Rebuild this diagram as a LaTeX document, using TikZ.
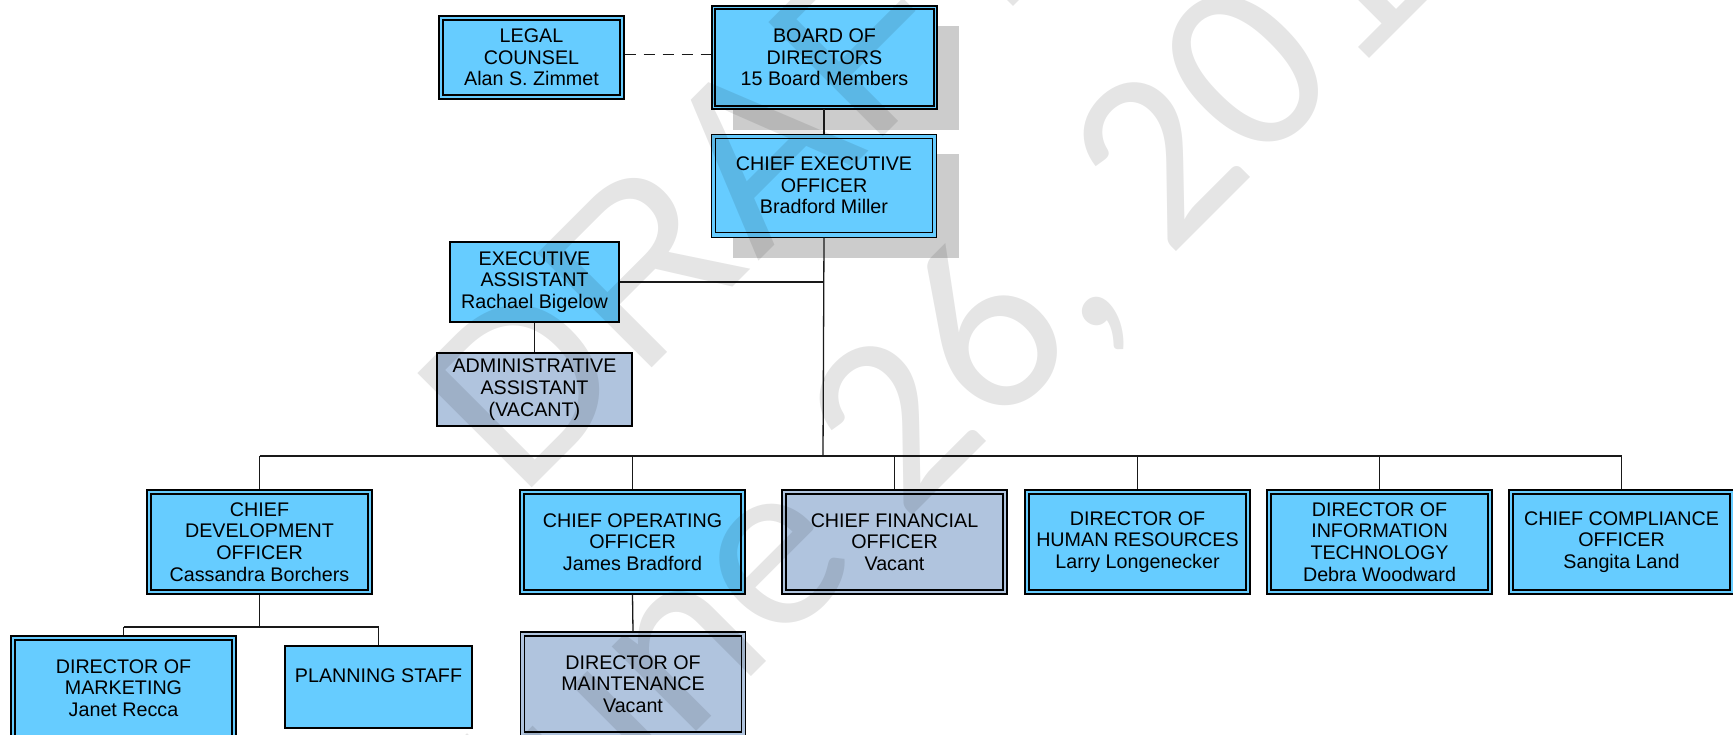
\documentclass[tikz,border=0pt]{standalone}
\usepackage{fontspec}
\setmainfont{Liberation Sans}
\newfontfamily\wmdatefamily{Carlito}
\definecolor{boxblue}{HTML}{66CCFF}
\definecolor{vacantblue}{HTML}{B0C4DE}
\definecolor{shadowgray}{HTML}{CCCCCC}
\newcommand\boxfont{\fontsize{19.7}{21.7}\selectfont}
\newcommand\wmtitlefont{\fontsize{235}{280}\selectfont}
\newcommand\wmdatefont{\wmdatefamily\fontsize{250}{300}\selectfont}
\tikzset{
  box/.style={draw=black, line width=1.1pt, fill=boxblue, minimum width=225pt,
    minimum height=104pt, inner sep=0pt, align=center, font=\boxfont},
  vacant/.style={fill=vacantblue},
  innerline/.style={line width=1.8pt},
  link/.style={line width=1.3pt, draw=black!90},
  shade/.style={fill=shadowgray, draw=none},
  watermark/.style={rotate=45, anchor=base, text=black, text opacity=0.1, inner sep=0pt}
}
\begin{document}
\begin{tikzpicture}[x=1pt, y=-1pt]
\useasboundingbox (0,0) rectangle (1733,734);

% drop shadows behind the two top boxes
\fill[shade] (733,26) rectangle (959,130);
\fill[shade] (733,154) rectangle (959,258);

% governance
\node[box, minimum width=185pt, minimum height=83pt] (legal) at (531.5,57.5) {LEGAL\\COUNSEL\\Alan S. Zimmet};
\node[box, line width=2.2pt, minimum height=103pt] (board) at (824.5,57.5) {BOARD OF\\DIRECTORS\\15 Board Members};
\node[box, line width=0.9pt, minimum height=103pt] (ceo) at (824,185.5) {CHIEF EXECUTIVE\\OFFICER\\Bradford Miller};

% executive office
\node[box, minimum width=169pt, minimum height=80pt] (exec) at (534.5,282) {EXECUTIVE\\ASSISTANT\\Rachael Bigelow};
\node[box, vacant, minimum width=195pt, minimum height=73pt] (admin) at (534.5,389.5) {ADMINISTRATIVE\\ASSISTANT\\(VACANT)};

% senior staff
\node[box] (dev) at (259.5,542) {CHIEF\\DEVELOPMENT\\OFFICER\\Cassandra Borchers};
\node[box] (coo) at (632.5,542) {CHIEF OPERATING\\OFFICER\\James Bradford};
\node[box, vacant] (cfo) at (894.5,542) {CHIEF FINANCIAL\\OFFICER\\Vacant};
\node[box] (hr) at (1137.5,542) {DIRECTOR OF\\HUMAN RESOURCES\\Larry Longenecker};
\node[box] (it) at (1379.5,542) {DIRECTOR OF\\INFORMATION\\TECHNOLOGY\\Debra Woodward};
\node[box] (cco) at (1621.5,542) {CHIEF COMPLIANCE\\OFFICER\\Sangita Land};

% third level
\node[box] (mkt) at (123.5,688) {DIRECTOR OF\\MARKETING\\Janet Recca};
\node[box, minimum width=187pt, minimum height=82pt] (plan) at (378.5,687) {};
\node[font=\boxfont, anchor=center] (plantext) at (378.5,675.5) {PLANNING STAFF};
\node[box, vacant] (maint) at (633,684) {DIRECTOR OF\\MAINTENANCE\\Vacant};

% inner frames of the double-bordered boxes
\foreach \n in {legal,dev,coo,cfo,hr,it,cco,mkt,maint}
  \draw[innerline] ([shift={(4.5pt,-4.5pt)}]\n.north west) rectangle ([shift={(-4.5pt,4.5pt)}]\n.south east);
\draw[line width=2pt] ([shift={(4pt,-4pt)}]board.north west) rectangle ([shift={(-4pt,4pt)}]board.south east);
\draw[line width=1pt] ([shift={(4.5pt,-4.5pt)}]ceo.north west) rectangle ([shift={(-4.5pt,4.5pt)}]ceo.south east);

% connectors
\coordinate (bus) at (823,456);
\coordinate (branch) at (259.5,627);
\draw[link, line width=1.5pt, dash pattern=on 11pt off 8pt] ([yshift=3pt]legal.east) -- ([yshift=3pt]legal.east -| board.west);
\draw[link] (board.south) -- (ceo.south |- board.south) -- (ceo.north);
\draw[link] (ceo.south) -- (bus);
\draw[link] (exec.east) -- (exec.east -| bus);
\draw[link] (exec.south) -- (admin.north);
\draw[link] (dev.north |- bus) -- (cco.north |- bus);
\foreach \n in {dev,coo,cfo,hr,it,cco}
  \draw[link] (\n.north |- bus) -- (\n.north);
\draw[link] (dev.south) -- (branch);
\draw[link] (mkt.north |- branch) -- (plan.north |- branch);
\draw[link] (mkt.north |- branch) -- (mkt.north);
\draw[link] (plan.north |- branch) -- (plan.north);
\draw[link] (coo.south) -- (maint.north);

% watermark
\node[watermark, font=\wmtitlefont] (wm1) at (795.5,224.5) {DRAFT};
\node[watermark, font=\wmdatefont] (wm2) at (1030.8,397.2) {June 26, 2015};
\end{tikzpicture}
\end{document}
